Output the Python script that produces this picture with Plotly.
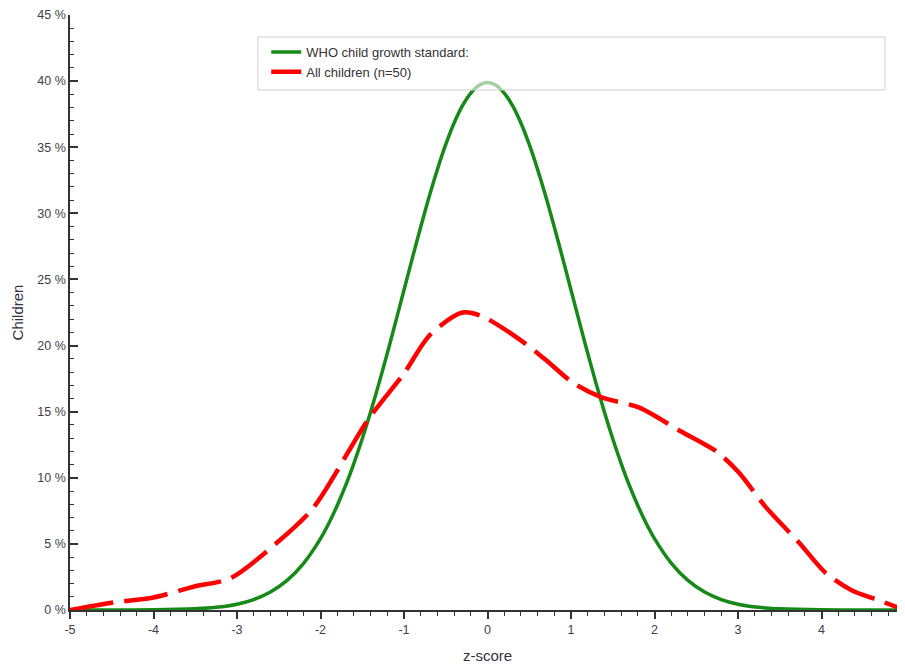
import plotly.graph_objects as go

# WHO child growth standard (percent of children per z-score)
who_z = [-5, -4.5, -4, -3.5, -3.25, -3, -2.8, -2.6, -2.4, -2.2, -2, -1.9, -1.8, -1.7, -1.6, -1.5,
         -1.4, -1.3, -1.2, -1.1, -1, -0.9, -0.8, -0.7, -0.6, -0.5, -0.4, -0.3, -0.2, -0.1, 0,
         0.1, 0.2, 0.3, 0.4, 0.5, 0.6, 0.7, 0.8, 0.9, 1, 1.1, 1.2, 1.3, 1.4, 1.5, 1.6, 1.7, 1.8,
         1.9, 2, 2.2, 2.4, 2.6, 2.8, 3, 3.25, 3.5, 4, 4.5, 5]
who_pct = [0.0, 0.0, 0.01, 0.09, 0.2, 0.44, 0.79, 1.36, 2.24, 3.55, 5.4, 6.56, 7.9, 9.4, 11.09, 12.95,
           14.97, 17.14, 19.42, 21.79, 24.2, 26.61, 28.97, 31.23, 33.32, 35.21, 36.83, 38.14, 39.1, 39.69, 39.89,
           39.69, 39.1, 38.14, 36.83, 35.21, 33.32, 31.23, 28.97, 26.61, 24.2, 21.79, 19.42, 17.14, 14.97, 12.95,
           11.09, 9.4, 7.9, 6.56, 5.4, 3.55, 2.24, 1.36, 0.79, 0.44, 0.2, 0.09, 0.01, 0.0, 0.0]

# All children (n=50)
all_z = [-5, -4.5, -4.0, -3.5, -3.08, -2.52, -2.09, -1.43, -1.0, -0.69, -0.3, -0.06, 0.42, 0.70,
         1.02, 1.36, 1.82, 2.29, 2.74, 3.01, 3.33, 3.73, 4.05, 4.36, 4.7, 5]
all_pct = [0.0, 0.55, 0.95, 1.8, 2.4, 5.1, 7.7, 14.4, 17.9, 20.8, 22.5, 22.2, 20.3, 18.9,
           17.2, 16.1, 15.3, 13.6, 12.0, 10.4, 7.8, 5.1, 2.8, 1.5, 0.7, 0.0]

x_ticks = [-5, -4, -3, -2, -1, 0, 1, 2, 3, 4, 5]
y_ticks = [0, 5, 10, 15, 20, 25, 30, 35, 40, 45]

fig = go.Figure()
fig.add_trace(go.Scatter(x=who_z, y=who_pct, mode="lines", name="WHO child growth standard:",
                         line=dict(color="#168a16", width=3.5, shape="spline", smoothing=0.8)))
fig.add_trace(go.Scatter(x=all_z, y=all_pct, mode="lines", name="All children (n=50)",
                         line=dict(color="#ff0000", width=4.5, shape="spline", smoothing=0.8,
                                   dash="44px,11px")))

FONT = "Liberation Sans, Arial, sans-serif"
axis_font = dict(family=FONT, size=12.5, color="#404048")

# the page body adds an 8px offset, so the figure is sized to fit the window
fig.update_layout(
    width=897, height=660,
    margin=dict(l=62, r=0, t=7, b=58),
    paper_bgcolor="white", plot_bgcolor="white",
    showlegend=True,
    legend=dict(x=0.235, y=0.963, xanchor="left", yanchor="top",
                bgcolor="rgba(0,0,0,0)", borderwidth=0, itemwidth=30,
                font=dict(family=FONT, size=13, color="#333333")),
    shapes=[dict(type="rect", xref="paper", yref="paper", x0=0.225, x1=0.976, y0=0.874, y1=0.963,
                 line=dict(color="#cfcfcf", width=1), fillcolor="rgba(255,255,255,0.6)", layer="above")],
    xaxis=dict(range=[-5, 5], tickvals=x_ticks, ticktext=[str(v) for v in x_ticks], automargin=False,
               showgrid=False, zeroline=False, showline=True, linecolor="#333333", linewidth=1.5,
               ticks="outside", ticklen=7, tickcolor="#333333", tickwidth=1.5,
               minor=dict(dtick=0.2, ticks="outside", ticklen=4, tickcolor="#333333", tickwidth=1),
               tickfont=axis_font,
               title=dict(text="z-score", font=dict(family=FONT, size=15, color="#333340"), standoff=15)),
    yaxis=dict(range=[0, 45], tickvals=y_ticks, ticktext=[f"{v} %" for v in y_ticks], automargin=False,
               showgrid=False, zeroline=False, showline=True, linecolor="#333333", linewidth=1.5,
               ticks="inside", ticklen=8, tickcolor="#333333", tickwidth=1.5,
               minor=dict(dtick=1, ticks="inside", ticklen=4, tickcolor="#333333", tickwidth=1),
               tickfont=axis_font,
               title=dict(text="Children", font=dict(family=FONT, size=15, color="#333340"), standoff=10)),
)

fig.write_html("out.html")
